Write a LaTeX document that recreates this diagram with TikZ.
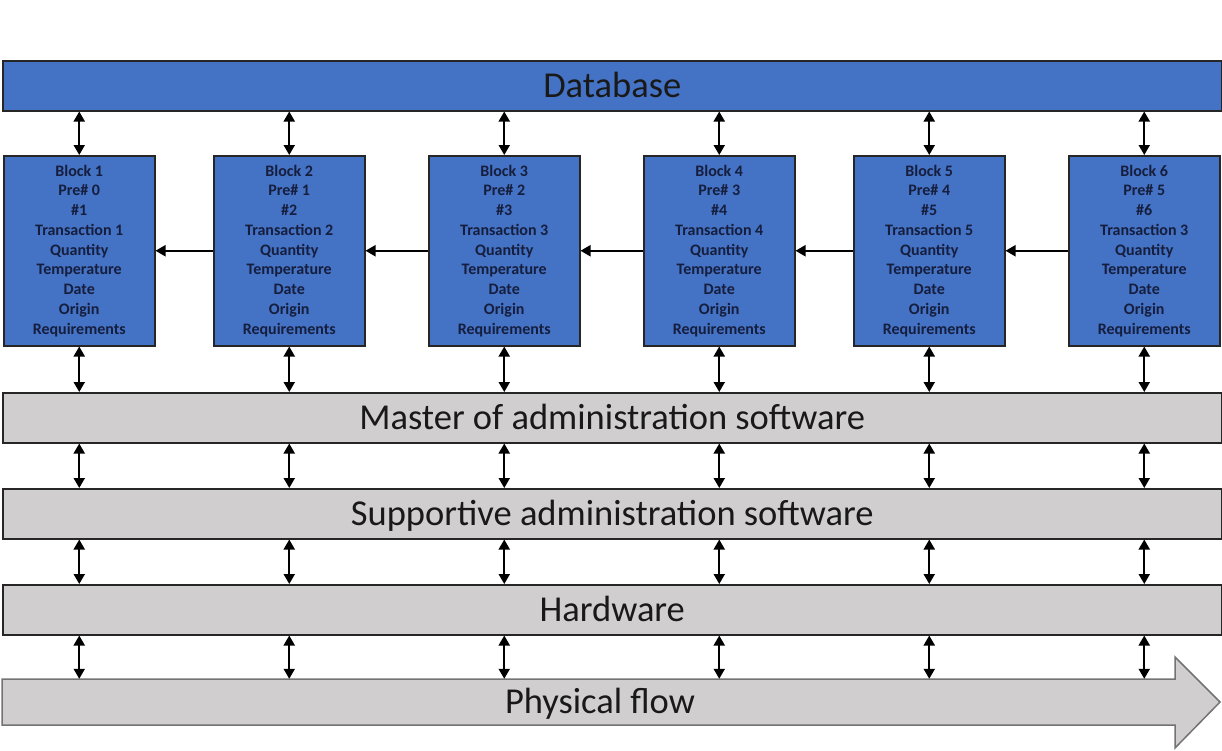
\documentclass[tikz,border=0pt]{standalone}
\usepackage{fontspec}
\setmainfont{Carlito}
\usetikzlibrary{arrows.meta}
\definecolor{dbblue}{HTML}{4472C4}
\definecolor{lgray}{HTML}{D0CECE}
\definecolor{navy}{RGB}{22,30,62}
\tikzset{
  layerbar/.style={draw=black!85, line width=1.5pt, anchor=north west,
    minimum width=1219pt, minimum height=50pt, inner sep=0pt,
    font=\fontsize{36.5}{40}\selectfont, text=black!90, text height=23pt, text depth=0pt},
  blockbox/.style={draw=black!85, fill=dbblue, line width=1.5pt, anchor=north west,
    minimum width=151pt, minimum height=190pt, inner sep=0pt, align=center,
    font=\bfseries\fontsize{16}{19.75}\selectfont, text=navy},
  conn/.style={{Triangle[length=10pt,width=11pt]}-{Triangle[length=10pt,width=11pt]}, line width=2pt, black},
  link/.style={-{Triangle[length=10pt,width=11pt]}, line width=2pt, black}
}
\begin{document}
\begin{tikzpicture}[x=1pt,y=-1pt]
\useasboundingbox (0,0) rectangle (1222,750);

% Database
\node[layerbar, fill=dbblue, text=black!90] (db) at (2,60) {Database};

% Blocks
\node[blockbox] (b1) at (3,155) {Block 1\\Pre\# 0\\\#1\\Transaction 1\\Quantity\\Temperature\\Date\\Origin\\Requirements};
\node[blockbox] (b2) at (213,155) {Block 2\\Pre\# 1\\\#2\\Transaction 2\\Quantity\\Temperature\\Date\\Origin\\Requirements};
\node[blockbox] (b3) at (428,155) {Block 3\\Pre\# 2\\\#3\\Transaction 3\\Quantity\\Temperature\\Date\\Origin\\Requirements};
\node[blockbox] (b4) at (643,155) {Block 4\\Pre\# 3\\\#4\\Transaction 4\\Quantity\\Temperature\\Date\\Origin\\Requirements};
\node[blockbox] (b5) at (853,155) {Block 5\\Pre\# 4\\\#5\\Transaction 5\\Quantity\\Temperature\\Date\\Origin\\Requirements};
\node[blockbox] (b6) at (1068,155) {Block 6\\Pre\# 5\\\#6\\Transaction 3\\Quantity\\Temperature\\Date\\Origin\\Requirements};

% Layers
\node[layerbar, fill=lgray] (master) at (2,392) {Master of administration software};
\node[layerbar, fill=lgray] (supp) at (2,488) {Supportive administration software};
\node[layerbar, fill=lgray] (hw) at (2,584) {Hardware};

% Physical flow arrow
\draw[draw=black!55, line width=1.5pt, fill=lgray]
  (2,679) -- (1175,679) -- (1175,657) -- (1220,702) -- (1175,748) -- (1175,725) -- (2,725) -- cycle;
\node[inner sep=0pt, font=\fontsize{36.5}{40}\selectfont, text=black!90, text height=23pt, text depth=0pt,
  minimum width=1173pt, minimum height=46pt] (pf) at (600,702) {Physical flow};

% Chain links
\draw[link] (b2.west) -- (b1.east);
\draw[link] (b3.west) -- (b2.east);
\draw[link] (b4.west) -- (b3.east);
\draw[link] (b5.west) -- (b4.east);
\draw[link] (b6.west) -- (b5.east);

% Vertical connectors
\foreach \b in {b1,b2,b3,b4,b5,b6}{
  \draw[conn] (\b.north |- db.south) -- (\b.north);
  \draw[conn] (\b.south) -- (\b.south |- master.north);
  \draw[conn] (\b.south |- master.south) -- (\b.south |- supp.north);
  \draw[conn] (\b.south |- supp.south) -- (\b.south |- hw.north);
  \draw[conn] (\b.south |- hw.south) -- (\b.south |- pf.north);
}
\end{tikzpicture}
\end{document}
